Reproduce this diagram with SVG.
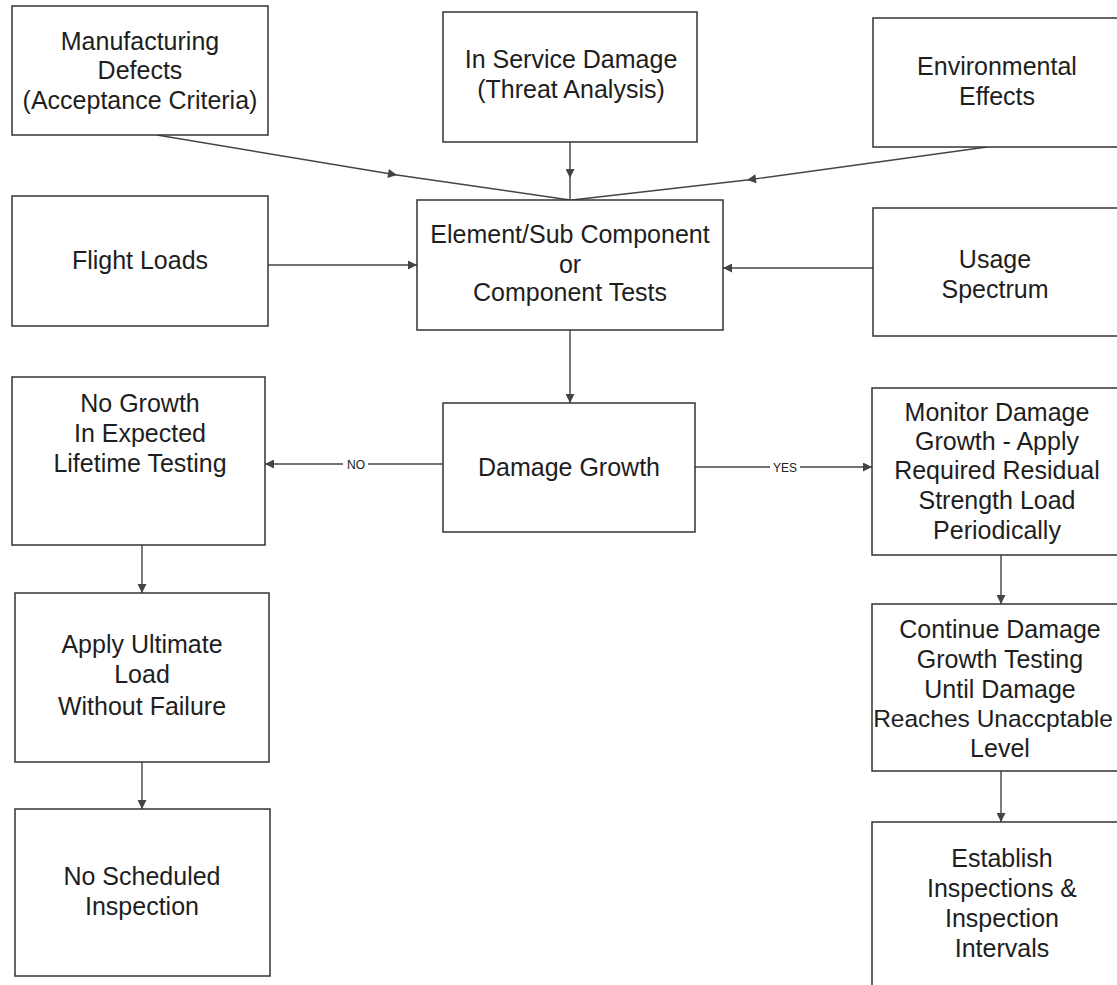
<svg xmlns="http://www.w3.org/2000/svg" width="1117" height="985" viewBox="0 0 1117 985">
<defs>
<style>
.box{fill:#fff;stroke:#333;stroke-width:1.5}
.t{font-family:"Liberation Sans",Arial,sans-serif;font-size:25px;fill:#1e1e1e;text-anchor:middle}
.lbl{font-family:"Liberation Sans",Arial,sans-serif;font-size:12px;fill:#222;text-anchor:middle}
.c{fill:none;stroke:#444;stroke-width:1.4}
</style>
<marker id="ah" viewBox="0 0 10 10" refX="10" refY="5" markerWidth="11" markerHeight="9" orient="auto" markerUnits="userSpaceOnUse">
<path d="M0,0 L10,5 L0,10 z" fill="#444"/>
</marker>
</defs>
<rect width="1117" height="985" fill="#fff"/>
<g id="connectors">
<line class="c" x1="157" y1="135" x2="397" y2="175" marker-end="url(#ah)"/>
<line class="c" x1="397" y1="175" x2="570" y2="200"/>
<line class="c" x1="570" y1="142" x2="570" y2="178" marker-end="url(#ah)"/>
<line class="c" x1="570" y1="178" x2="570" y2="200"/>
<line class="c" x1="987" y1="147" x2="747" y2="180" marker-end="url(#ah)"/>
<line class="c" x1="747" y1="180" x2="572" y2="200"/>
<line class="c" x1="268" y1="265" x2="417" y2="265" marker-end="url(#ah)"/>
<line class="c" x1="873" y1="268" x2="723" y2="268" marker-end="url(#ah)"/>
<line class="c" x1="570" y1="330" x2="570" y2="403" marker-end="url(#ah)"/>
<line class="c" x1="443" y1="464" x2="368" y2="464"/>
<line class="c" x1="343" y1="464" x2="265" y2="464" marker-end="url(#ah)"/>
<text class="lbl" x="356" y="469">NO</text>
<line class="c" x1="695" y1="467" x2="770" y2="467"/>
<line class="c" x1="800" y1="467" x2="872" y2="467" marker-end="url(#ah)"/>
<text class="lbl" x="785" y="472">YES</text>
<line class="c" x1="142" y1="545" x2="142" y2="593" marker-end="url(#ah)"/>
<line class="c" x1="142" y1="762" x2="142" y2="809" marker-end="url(#ah)"/>
<line class="c" x1="1001" y1="555" x2="1001" y2="604" marker-end="url(#ah)"/>
<line class="c" x1="1001" y1="771" x2="1001" y2="822" marker-end="url(#ah)"/>
</g>
<g id="manufacturing">
<rect class="box" x="12" y="6" width="256" height="129"/>
<text class="t" x="140" y="50">Manufacturing</text>
<text class="t" x="140" y="79">Defects</text>
<text class="t" x="140" y="109">(Acceptance Criteria)</text>
</g>
<g id="inservice">
<rect class="box" x="443" y="12" width="254" height="130"/>
<text class="t" x="571" y="68">In Service Damage</text>
<text class="t" x="571" y="98">(Threat Analysis)</text>
</g>
<g id="environmental">
<rect class="box" x="873" y="18" width="260" height="129"/>
<text class="t" x="997" y="75">Environmental</text>
<text class="t" x="997" y="105">Effects</text>
</g>
<g id="flightloads">
<rect class="box" x="12" y="196" width="256" height="130"/>
<text class="t" x="140" y="269">Flight Loads</text>
</g>
<g id="element">
<rect class="box" x="417" y="200" width="306" height="130"/>
<text class="t" x="570" y="243">Element/Sub Component</text>
<text class="t" x="570" y="273">or</text>
<text class="t" x="570" y="301">Component Tests</text>
</g>
<g id="usage">
<rect class="box" x="873" y="208" width="260" height="128"/>
<text class="t" x="995" y="268">Usage</text>
<text class="t" x="995" y="298">Spectrum</text>
</g>
<g id="nogrowth">
<rect class="box" x="12" y="377" width="253" height="168"/>
<text class="t" x="140" y="412">No Growth</text>
<text class="t" x="140" y="442">In Expected</text>
<text class="t" x="140" y="472">Lifetime Testing</text>
</g>
<g id="damagegrowth">
<rect class="box" x="443" y="403" width="252" height="129"/>
<text class="t" x="569" y="476">Damage Growth</text>
</g>
<g id="monitor">
<rect class="box" x="872" y="388" width="260" height="167"/>
<text class="t" x="997" y="421">Monitor Damage</text>
<text class="t" x="997" y="450">Growth - Apply</text>
<text class="t" x="997" y="479">Required Residual</text>
<text class="t" x="997" y="509">Strength Load</text>
<text class="t" x="997" y="539">Periodically</text>
</g>
<g id="continue">
<rect class="box" x="872" y="604" width="260" height="167"/>
<text class="t" x="1000" y="638">Continue Damage</text>
<text class="t" x="1000" y="668">Growth Testing</text>
<text class="t" x="1000" y="698">Until Damage</text>
<text class="t" x="993" y="727" style="font-size:24.5px">Reaches Unaccptable</text>
<text class="t" x="1000" y="757">Level</text>
</g>
<g id="establish">
<rect class="box" x="872" y="822" width="260" height="200"/>
<text class="t" x="1002" y="867">Establish</text>
<text class="t" x="1002" y="897">Inspections &amp;</text>
<text class="t" x="1002" y="927">Inspection</text>
<text class="t" x="1002" y="957">Intervals</text>
</g>
<g id="applyultimate">
<rect class="box" x="15" y="593" width="254" height="169"/>
<text class="t" x="142" y="653">Apply Ultimate</text>
<text class="t" x="142" y="683">Load</text>
<text class="t" x="142" y="715">Without Failure</text>
</g>
<g id="noscheduled">
<rect class="box" x="15" y="809" width="255" height="167"/>
<text class="t" x="142" y="885">No Scheduled</text>
<text class="t" x="142" y="915">Inspection</text>
</g>
</svg>
